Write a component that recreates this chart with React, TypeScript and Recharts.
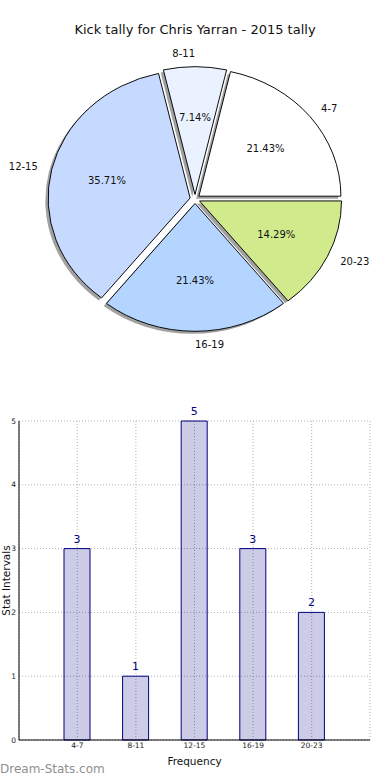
import { PieChart, Pie, Cell, Sector, BarChart, Bar, XAxis, YAxis, CartesianGrid, LabelList } from "recharts"

const intervals = ["4-7", "8-11", "12-15", "16-19", "20-23"]
const kicks = [3, 1, 5, 3, 2]
const sliceColors = ["#ffffff", "#eaf2ff", "#c6d9ff", "#b3d5ff", "#d0ea8c"]
const yTicks = [0, 1, 2, 3, 4, 5]

const data = intervals.map((name, i) => ({ name, value: kicks[i] }))

const FONT = "DejaVu Sans, Verdana, sans-serif"
const RAD = Math.PI / 180
const EXPLODE = 5
const SQUASH = 0.9
const CY = 199

function slice(props: any, sx: number, sy: number) {
  const { cx, cy, midAngle } = props
  const dx = EXPLODE * Math.cos(-midAngle * RAD)
  const dy = EXPLODE * Math.sin(-midAngle * RAD)
  return (
    <g transform={`translate(${sx} ${cy + sy}) scale(1 ${SQUASH}) translate(0 ${-cy})`}>
      <Sector {...props} cx={cx + dx} cy={cy + dy} />
    </g>
  )
}

const ShadowShape = (props: any) => slice(props, -2.8, 2.5)
const SliceShape = (props: any) => slice(props, 0, 0)

function PieLabels(props: any) {
  const { cx, cy, midAngle, outerRadius, percent, name } = props
  const c = Math.cos(-midAngle * RAD)
  const s = Math.sin(-midAngle * RAD)
  const at = (r: number) => ({ x: cx + (r + EXPLODE) * c, y: cy + SQUASH * (r + EXPLODE) * s })
  const out = at(outerRadius * 1.1)
  const inn = at(outerRadius * 0.6)
  const anchor = Math.abs(c) < 1e-6 ? (s < 0 ? "end" : "start") : c > 0 ? "start" : "end"
  return (
    <g fontFamily={FONT} fontSize={10} fill="#111">
      <text x={out.x} y={out.y} textAnchor={anchor} dominantBaseline="central">{name}</text>
      <text x={inn.x} y={inn.y} textAnchor="middle" dominantBaseline="central">{(percent * 100).toFixed(2)}%</text>
    </g>
  )
}

function YTitle(props: any) {
  const { viewBox } = props
  const x = 6
  const y = viewBox.y + viewBox.height / 2
  return (
    <text x={x} y={y} transform={`rotate(-90 ${x} ${y})`} textAnchor="middle" dominantBaseline="central"
      fontFamily={FONT} fontSize={10.5} fill="#111">Stat Intervals</text>
  )
}

export default function App() {
  return (
    <div style={{ position: "absolute", left: 0, top: 0, width: 390, height: 780, background: "#fff", fontFamily: FONT }}>
      <div style={{ position: "absolute", top: 22, width: 390, textAlign: "center", fontSize: 13, color: "#111" }}>
        Kick tally for Chris Yarran - 2015 tally
      </div>
      <div style={{ position: "absolute", left: 0, top: 0 }}>
        <PieChart width={390} height={390} margin={{ top: 0, right: 0, bottom: 0, left: 0 }}>
          <Pie data={data} dataKey="value" nameKey="name" cx={195} cy={CY} outerRadius={142}
            startAngle={0} endAngle={360} stroke="none" fill="#444" fillOpacity={0.5}
            shape={ShadowShape} isAnimationActive={false} label={false} labelLine={false} />
          <Pie data={data} dataKey="value" nameKey="name" cx={195} cy={CY} outerRadius={142}
            startAngle={0} endAngle={360} stroke="#000" strokeWidth={1}
            shape={SliceShape} isAnimationActive={false} label={PieLabels} labelLine={false}>
            {data.map((d, i) => <Cell key={d.name} fill={sliceColors[i]} stroke="#000" />)}
          </Pie>
        </PieChart>
      </div>
      <div style={{ position: "absolute", left: 0, top: 400 }}>
        <BarChart width={390} height={380} data={data} margin={{ top: 21, right: 20, left: 0, bottom: 15 }}>
          <CartesianGrid stroke="#b0b0b0" strokeDasharray="1 2" />
          <XAxis dataKey="name" padding={{ left: 29, right: 29 }} axisLine={{ stroke: "#000" }} tickLine={false}
            tickSize={2} tickMargin={1} height={25} interval={0}
            tick={{ fontSize: 7.5, fill: "#222", fontFamily: FONT }}
            label={{ value: "Frequency", position: "insideBottom", offset: 0, fontSize: 10.5, fill: "#111", fontFamily: FONT }} />
          <XAxis xAxisId="top" dataKey="name" orientation="top" height={0} tick={false} tickLine={false}
            axisLine={{ stroke: "#000" }} padding={{ left: 29, right: 29 }} />
          <YAxis domain={[0, 5]} ticks={yTicks} width={19} axisLine={{ stroke: "#000" }} tickLine={false}
            tickSize={2} tickMargin={1} interval={0}
            tick={{ fontSize: 7.5, fill: "#222", fontFamily: FONT }} label={<YTitle />} />
          <YAxis yAxisId="right" orientation="right" domain={[0, 5]} width={0} tick={false} tickLine={false}
            axisLine={{ stroke: "#000" }} />
          <Bar dataKey="value" barSize={26} fill="#000080" fillOpacity={0.2} stroke="#000080" strokeWidth={1}
            isAnimationActive={false}>
            <LabelList dataKey="value" position="top" offset={6} fill="#000080" fontSize={11} fontFamily={FONT} />
          </Bar>
        </BarChart>
      </div>
      <div style={{ position: "absolute", left: 0, top: 762, fontSize: 12, color: "#8f8f8f" }}>
        Dream-Stats.com
      </div>
    </div>
  )
}
